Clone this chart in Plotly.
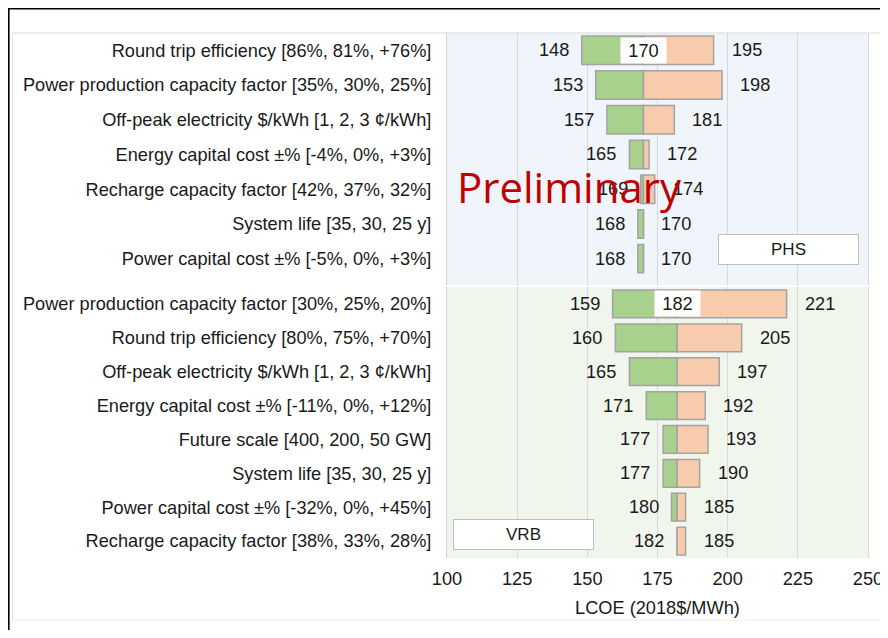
import plotly.graph_objects as go
from plotly.subplots import make_subplots

# ---------------- data ----------------
phs_labels = [
    "Round trip efficiency [86%, 81%, +76%]",
    "Power production capacity factor [35%, 30%, 25%]",
    "Off-peak electricity $/kWh [1, 2, 3 ¢/kWh]",
    "Energy capital cost ±% [-4%, 0%, +3%]",
    "Recharge capacity factor [42%, 37%, 32%]",
    "System life [35, 30, 25 y]",
    "Power capital cost ±% [-5%, 0%, +3%]",
]
phs_low = [148, 153, 157, 165, 169, 168, 168]
phs_high = [195, 198, 181, 172, 174, 170, 170]
phs_base = 170

vrb_labels = [
    "Power production capacity factor [30%, 25%, 20%]",
    "Round trip efficiency [80%, 75%, +70%]",
    "Off-peak electricity $/kWh [1, 2, 3 ¢/kWh]",
    "Energy capital cost ±% [-11%, 0%, +12%]",
    "Future scale [400, 200, 50 GW]",
    "System life [35, 30, 25 y]",
    "Power capital cost ±% [-32%, 0%, +45%]",
    "Recharge capacity factor [38%, 33%, 28%]",
]
vrb_low = [159, 160, 165, 171, 177, 177, 180, 182]
vrb_high = [221, 205, 197, 192, 193, 190, 185, 185]
vrb_base = 182

x_ticks = [100, 125, 150, 175, 200, 225, 250]
x_title = "LCOE (2018$/MWh)"

# ---------------- styling ----------------
GREEN = "#A9D18E"
SALMON = "#F8CBAD"
EDGE = "#A3A3A3"
FONT = "Liberation Sans, Arial, sans-serif"
TXT = "#1a1a1a"
FS = 18.2

OFF = 8  # page offset of the figure inside the browser window
W, H = 880, 622
ML, MR, MT, MB = 439, 20, 25, 72
PW, PH = W - ML - MR, H - MT - MB


def px(x):  # reference page pixel -> paper x
    return (x - OFF - ML) / PW


def py(y):  # reference page pixel -> paper y
    return (H - MB - (y - OFF)) / PH


phs_top, phs_bot = 33, 285
vrb_top, vrb_bot = 287, 558

fig = make_subplots(rows=2, cols=1, shared_xaxes=True)
fig.update_layout(
    yaxis=dict(domain=[py(phs_bot), py(phs_top)]),
    yaxis2=dict(domain=[py(vrb_bot), py(vrb_top)]),
)

panels = [
    (1, phs_labels, phs_low, phs_high, phs_base, [6.76, -0.5]),
    (2, vrb_labels, vrb_low, vrb_high, vrb_base, [7.5, -0.5]),
]

annotations = []
for row, labels, low, high, base, yr in panels:
    fig.add_trace(go.Bar(
        y=labels, x=[l - base for l in low], base=base, orientation="h",
        marker=dict(color=GREEN, line=dict(color=EDGE, width=1.5)),
        width=0.82, showlegend=False, hoverinfo="skip"), row=row, col=1)
    fig.add_trace(go.Bar(
        y=labels, x=[h - base for h in high], base=base, orientation="h",
        marker=dict(color=SALMON, line=dict(color=EDGE, width=1.5)),
        width=0.82, showlegend=False, hoverinfo="skip"), row=row, col=1)
    xr = "x" if row == 1 else "x2"
    yrr = "y" if row == 1 else "y2"
    for lab, l, h in zip(labels, low, high):
        annotations.append(dict(x=l, y=lab, xref=xr, yref=yrr, text=str(l),
                                showarrow=False, xanchor="right", xshift=-11,
                                font=dict(size=FS, color=TXT, family=FONT)))
        annotations.append(dict(x=h, y=lab, xref=xr, yref=yrr, text=str(h),
                                showarrow=False, xanchor="left", xshift=16,
                                font=dict(size=FS, color=TXT, family=FONT)))
    annotations.append(dict(x=base, y=labels[0], xref=xr, yref=yrr, text=str(base),
                            showarrow=False, bgcolor="white", width=45, height=25,
                            borderpad=0,
                            font=dict(size=FS, color=TXT, family=FONT)))
    fig.update_yaxes(range=yr, showgrid=False, showline=True, mirror=True,
                     linecolor="#D4D4D4", linewidth=1, ticks="",
                     ticklabelstandoff=11, automargin=False,
                     tickfont=dict(size=FS, color=TXT, family=FONT),
                     row=row, col=1)

# panel backgrounds
fig.add_shape(type="rect", xref="x domain", yref="y domain", x0=0, x1=1, y0=0, y1=1,
              fillcolor="#EFF5FA", line=dict(width=0), layer="below")
fig.add_shape(type="rect", xref="x2 domain", yref="y2 domain", x0=0, x1=1, y0=0, y1=1,
              fillcolor="#F1F6EC", line=dict(width=0), layer="below")

fig.update_xaxes(range=[x_ticks[0], x_ticks[-1]], tickvals=x_ticks, showgrid=True,
                 gridcolor="#D9D9D9", gridwidth=1, zeroline=False, ticks="",
                 automargin=False,
                 tickfont=dict(size=FS, color=TXT, family=FONT))
fig.update_xaxes(showticklabels=False, row=1, col=1)
fig.update_xaxes(title=dict(text=x_title, standoff=13,
                            font=dict(size=FS, color=TXT, family=FONT)),
                 ticklabelstandoff=8, row=2, col=1)

# PHS / VRB label boxes
annotations.append(dict(x=px(788.5), y=py(249.5), xref="paper", yref="paper", text="PHS",
                        xanchor="center", yanchor="middle",
                        showarrow=False, bgcolor="white", bordercolor="#BFBFBF",
                        borderwidth=1, borderpad=0, width=139, height=29,
                        font=dict(size=17, color=TXT, family=FONT)))
annotations.append(dict(x=px(523.5), y=py(534.5), xref="paper", yref="paper", text="VRB",
                        xanchor="center", yanchor="middle",
                        showarrow=False, bgcolor="white", bordercolor="#BFBFBF",
                        borderwidth=1, borderpad=0, width=139, height=29,
                        font=dict(size=17, color=TXT, family=FONT)))

# watermark
annotations.append(dict(x=px(569), y=py(186), xref="paper", yref="paper",
                        text="Preliminary", showarrow=False,
                        xanchor="center", yanchor="middle",
                        font=dict(size=42, color="#C00000", family="Open Sans, sans-serif")))

# frame lines
shapes = [
    dict(type="line", xref="paper", yref="paper", x0=px(8), x1=px(900), y0=py(8.8), y1=py(8.8),
         line=dict(color="#000000", width=1.6)),
    dict(type="line", xref="paper", yref="paper", x0=px(8.8), x1=px(8.8), y0=py(8), y1=py(650),
         line=dict(color="#000000", width=1.6)),
    dict(type="line", xref="paper", yref="paper", x0=px(12.5), x1=px(900), y0=py(33), y1=py(33),
         line=dict(color="#D9D9D9", width=1)),
    dict(type="line", xref="paper", yref="paper", x0=px(12.5), x1=px(12.5), y0=py(33), y1=py(620),
         line=dict(color="#E3E3E3", width=1)),
    dict(type="line", xref="paper", yref="paper", x0=px(12.5), x1=px(900), y0=py(620), y1=py(620),
         line=dict(color="#EEEEEE", width=1)),
]
for s in shapes:
    fig.add_shape(**s)

fig.update_layout(
    width=W, height=H,
    margin=dict(l=ML, r=MR, t=MT, b=MB, autoexpand=False),
    paper_bgcolor="white", plot_bgcolor="rgba(0,0,0,0)",
    barmode="overlay", bargap=0.18,
    annotations=annotations,
    font=dict(family=FONT, color=TXT),
)

fig.write_html("out.html")
